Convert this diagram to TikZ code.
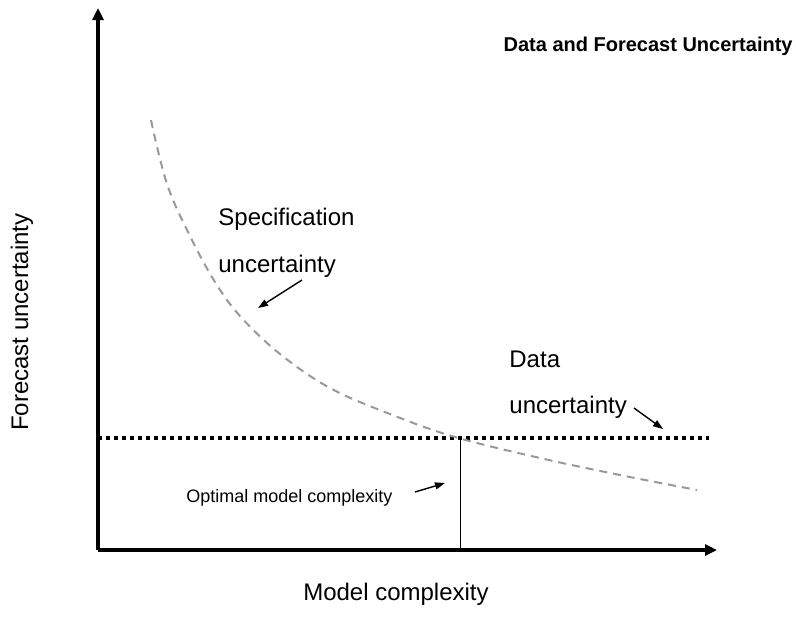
\documentclass[tikz,border=0pt]{standalone}
\usepackage{fontspec}
\setmainfont{Liberation Sans}
\usetikzlibrary{arrows.meta}
\tikzset{axisline/.style={line width=1.8pt,-{Triangle[length=6pt,width=5.5pt]}},
 pointer/.style={line width=0.7pt,-{Triangle[length=5pt,width=3.5pt]}},
 bigtext/.style={font=\fontsize{12}{14}\selectfont,inner sep=0pt},
 smalltext/.style={font=\fontsize{9}{11}\selectfont,inner sep=0pt},
 optline/.style={line width=2pt,dash pattern=on 2pt off 2pt},
 speccurve/.style={line width=1pt,draw=black!40,dash pattern=on 4pt off 3pt},
 }

\begin{document}
\begin{tikzpicture}[x=0.5pt,y=-0.5pt]
    \useasboundingbox (0,0) rectangle (796,629);
    \coordinate (origin) at (98,550);
    \coordinate (ytop) at (98,8);
    \coordinate (xend) at (717,550);
    \coordinate (dotstart) at (98,438);
    \coordinate (dotend) at (709,438);
    \coordinate (optimum) at (460,438);
    \coordinate (optfoot) at (460,550);
    \draw[axisline] (origin) -- (ytop);
    \draw[axisline] (origin) -- (xend);
    \draw[optline] (dotstart) -- (dotend);
    \draw[line width=0.5pt] (optimum) -- (optfoot);
    \draw[speccurve] plot[smooth,tension=0.6] coordinates {(151,120) (167,184) (190,236)
        (215,282) (240,316) (280,354) (330,388) (390,414) (455,437) (540,458) (620,475) (697,490)};
    \node[font=\bfseries\fontsize{10}{12}\selectfont,anchor=base east,inner sep=0pt] (title) at (793,51) {Data and Forecast Uncertainty};
    \node[bigtext,anchor=base west] (spec) at (218,225) {Specification};
    \node[bigtext,anchor=base west] (specb) at (218,272) {uncertainty};
    \node[bigtext,anchor=base west] (data) at (509,367) {Data};
    \node[bigtext,anchor=base west] (datab) at (509,413) {uncertainty};
    \node[smalltext,anchor=base west] (optimal) at (186,502) {Optimal model complexity};
    \node[bigtext,anchor=base] (xlabel) at (396,600) {Model complexity};
    \node[bigtext,rotate=90,anchor=base] (ylabel) at (28,322) {Forecast uncertainty};
    \coordinate (specfrom) at (302,280);
    \coordinate (specto) at (258,308);
    \coordinate (datafrom) at (634,408);
    \coordinate (datato) at (663,429);
    \coordinate (optfrom) at (415,492);
    \coordinate (optto) at (445,483);
    \draw[pointer] (specfrom) -- (specto);
    \draw[pointer] (datafrom) -- (datato);
    \draw[pointer] (optfrom) -- (optto);
\end{tikzpicture}
\end{document}
